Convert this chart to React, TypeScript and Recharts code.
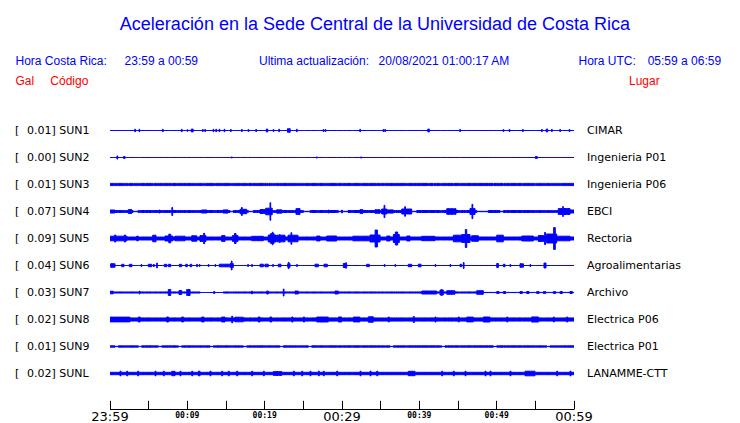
import React from "react";
import { ComposedChart, Area, XAxis, YAxis } from "recharts";

type Seg = [number, number, number];

const TITLE = "Aceleración en la Sede Central de la Universidad de Costa Rica";
const CODES = ["SUN1", "SUN2", "SUN3", "SUN4", "SUN5", "SUN6", "SUN7", "SUN8", "SUN9", "SUNL"];
const GAL = ["0.01", "0.00", "0.01", "0.07", "0.09", "0.04", "0.03", "0.02", "0.01", "0.02"];
const PLACES = ["CIMAR", "Ingenieria P01", "Ingenieria P06", "EBCI", "Rectoria", "Agroalimentarias", "Archivo", "Electrica P06", "Electrica P01", "LANAMME-CTT"];
const TIME_TICKS = [0, 5, 10, 15, 20, 25, 30, 35, 40, 45, 50, 55, 60];
const TIME_LABELS: Record<number, string> = { 0: "23:59", 10: "00:09", 20: "00:19", 30: "00:29", 40: "00:39", 50: "00:49", 60: "00:59" };
const MAJOR_TICKS = [0, 30, 60];

// background half-amplitude of each trace (display units)
const BASES = [0, 0, 1.1, 1.0, 1.5, 0, 0.6, 1.6, 0.7, 1.2];

// [start minute, end minute, half-amplitude]; later entries override earlier ones
const SUN1: Seg[] = [
  [3.2, 3.3, 1.2], [3.75, 3.85, 1.2], [6.78, 6.88, 1.2], [9.23, 9.33, 1.2], [9.97, 10.07, 0.8], [10.5, 10.75, 1.4],
  [11.95, 12.05, 1], [12.25, 12.35, 1], [13.33, 13.43, 1.2], [13.68, 13.78, 1.2], [14.1, 14.2, 1.2], [14.75, 14.85, 1.2],
  [15.58, 15.68, 1], [17.0, 17.1, 1], [17.85, 17.95, 1], [18.85, 18.95, 1], [20.2, 20.4, 1.4], [21.09, 21.19, 1],
  [21.82, 21.92, 1.2], [22.95, 23.3, 1.8], [24.11, 24.21, 1.2], [27.55, 27.65, 1], [27.81, 27.91, 1], [32.3, 32.4, 1.2],
  [35.31, 35.41, 1], [35.53, 35.63, 1], [41.1, 41.3, 1.4], [45.23, 45.33, 1], [50.83, 50.93, 1], [51.61, 51.71, 1],
  [53.34, 53.44, 1], [55.8, 55.9, 1], [56.4, 56.6, 1.4], [57.09, 57.19, 1], [58.16, 58.26, 1], [59.37, 59.47, 1],
];
const SUN2: Seg[] = [
  [0.9, 1.0, 1.6], [1.75, 1.95, 1], [15.7, 15.8, 0.6], [26.7, 26.8, 0.6], [32.42, 32.52, 0.6], [55.0, 55.25, 1],
];
const SUN3: Seg[] = [
  [2.33, 2.45, 0.5], [2.97, 3.09, 0.5], [3.84, 3.96, 0.5], [4.49, 4.61, 0.5], [5.56, 5.68, 0.5], [8.59, 8.71, 0.5],
  [10.95, 11.07, 0.5], [13.54, 13.66, 0.5], [15.7, 15.82, 0.5], [16.77, 16.89, 0.5], [17.64, 17.76, 0.5], [20.43, 20.55, 0.5],
  [21.3, 21.42, 0.5], [24.53, 24.65, 0.5], [25.18, 25.3, 0.5], [25.82, 25.94, 0.5], [31.22, 31.34, 0.5], [34.88, 35.0, 0.5],
  [38.33, 38.45, 0.5], [41.12, 41.24, 0.5], [41.77, 41.89, 0.5], [42.63, 42.75, 0.5], [43.5, 43.62, 0.5], [44.35, 44.47, 0.5],
  [49.53, 49.65, 0.5], [50.82, 50.94, 0.5], [52.55, 52.67, 0.5], [54.92, 55.04, 0.3], [56.86, 56.98, 0.5], [58.15, 58.27, 0.5],
];
const SUN4: Seg[] = [
  [2.97, 3.62, 0.2], [15.52, 15.94, 0.2], [17.88, 18.53, 0.2], [25.0, 25.86, 0.2], [29.52, 30.78, 0.2], [39.01, 39.66, 0.2],
  [47.42, 48.92, 0.2], [50.43, 50.86, 0.2],
  [0, 0.65, 1.5], [2.37, 2.81, 2], [6.36, 6.46, 1.5], [8.0, 8.1, 4], [11.86, 12.5, 1.6], [14.61, 15.26, 1.6],
  [16.81, 17.68, 2.2], [17.0, 17.1, 4], [19.4, 20.04, 2], [20.13, 20.98, 3.3], [20.69, 20.78, 8.8], [21.56, 22.2, 1.7],
  [24.05, 24.57, 3], [28.23, 28.33, 1.5], [29.95, 30.05, 1.5], [32.33, 32.68, 2], [34.27, 34.92, 1.8], [35.13, 35.78, 2.5],
  [35.44, 35.54, 6.2], [35.78, 36.64, 1.6], [37.72, 39.01, 2.5], [38.11, 38.2, 4.8], [43.54, 44.74, 2.8], [46.55, 47.2, 3],
  [46.81, 46.91, 7.2], [57.97, 59.48, 3], [58.54, 58.62, 5], [59.48, 60, 1.5],
];
const SUN5: Seg[] = [
  [0, 2.2, 2.3], [0.6, 0.75, 3.5], [1.85, 2.0, 3.5], [3.45, 3.66, 2.3], [5.52, 5.95, 3.3], [7.11, 8.1, 2.5],
  [7.6, 7.85, 4.3], [8.41, 9.7, 2.3], [10.57, 11.21, 2.8], [11.64, 12.41, 3], [12.11, 12.24, 5.2], [14.44, 14.87, 3],
  [15.83, 16.55, 3], [16.1, 16.3, 5], [18.32, 19.83, 2.2], [20.47, 21.47, 3.5], [20.78, 21.21, 5], [20.99, 21.08, 6.3],
  [21.56, 22.63, 3.3], [21.9, 22.0, 4], [23.02, 24.31, 3.3], [23.4, 23.5, 5.8], [26.73, 27.16, 2.5], [28.02, 29.31, 2.5],
  [31.4, 33.62, 2.3], [33.62, 34.92, 3.5], [34.28, 34.58, 8.5], [35.79, 36.21, 2.5], [36.64, 37.41, 4], [36.9, 37.2, 6.5],
  [38.37, 38.79, 2.5], [40.31, 42.03, 2.2], [44.4, 45.48, 3.3], [45.48, 46.55, 4], [45.95, 46.13, 9], [46.77, 47.63, 2.8],
  [50.01, 50.86, 3.3], [53.24, 54.74, 2.5], [55.39, 56.47, 3], [56.2, 56.33, 6], [56.47, 57.76, 4.5], [57.37, 57.58, 11],
  [57.76, 59.48, 2.3],
];
const SUN6: Seg[] = [
  [0.09, 0.65, 1.8], [1.51, 1.81, 1.2], [2.5, 2.84, 1.2], [4.01, 4.1, 1], [4.95, 5.39, 1.2], [5.6, 5.73, 1],
  [6.04, 6.12, 2.5], [7.02, 7.33, 1.2], [7.54, 7.85, 1.2], [8.96, 9.27, 1.2], [9.79, 10.0, 1.2], [10.35, 10.57, 1.2],
  [11.21, 11.3, 1.2], [11.55, 11.64, 1], [12.71, 12.8, 1], [13.58, 13.67, 1], [14.13, 15.43, 1.3], [15.52, 15.94, 2],
  [15.69, 15.78, 4.5], [17.81, 17.9, 1], [18.32, 18.41, 1], [19.4, 19.83, 1.3], [20.04, 20.47, 1.3], [21.04, 21.13, 1],
  [21.76, 22.11, 1.3], [22.98, 23.28, 1.8], [23.06, 23.15, 3.2], [24.14, 24.23, 1], [26.51, 26.94, 1.3], [27.67, 28.1, 1.3],
  [30.17, 30.61, 2], [30.48, 30.56, 2.8], [33.19, 33.53, 1.2], [35.47, 35.56, 1], [36.85, 36.94, 1], [38.57, 39.01, 1.2],
  [39.87, 40.22, 1.3], [42.03, 42.12, 1], [43.97, 44.06, 1], [45.26, 45.48, 1.2], [45.69, 45.78, 3], [50.01, 50.22, 2],
  [50.86, 51.08, 1.2], [51.72, 51.81, 1], [53.02, 53.45, 1.8], [54.31, 54.4, 1], [56.12, 56.38, 2.5],
];
const SUN7: Seg[] = [
  [0, 0.43, 1.3], [3.79, 3.88, 1.5], [7.54, 7.85, 3], [8.92, 9.27, 2], [9.92, 10.35, 3], [11.64, 14.65, 0],
  [13.4, 13.55, 1], [18.32, 18.41, 1.5], [20.26, 20.47, 1.5], [22.41, 22.5, 3.5], [23.92, 24.35, 1.5], [29.1, 29.52, 1.5],
  [40.31, 42.25, 1.5], [42.67, 43.1, 2.5], [42.84, 42.93, 3], [43.54, 44.61, 1.8], [47.42, 48.27, 1.8], [48.27, 60, 0.1],
  [50.01, 50.31, 1], [50.86, 51.16, 1], [53.02, 53.32, 1], [53.88, 54.18, 1], [55.18, 55.48, 1], [56.04, 56.34, 1],
  [57.33, 57.63, 1], [58.19, 58.49, 1], [59.48, 59.78, 1],
];
const SUN8: Seg[] = [
  [0, 2.59, 2.4], [3.66, 3.91, 2.5], [7.33, 7.58, 2.5], [9.27, 9.5, 2.5], [11.86, 12.16, 2.5], [14.44, 14.87, 2.5],
  [15.74, 15.87, 3.3], [16.16, 17.24, 2.3], [19.18, 19.4, 2.5], [20.69, 20.91, 2.5], [23.5, 23.66, 2.5], [25.0, 25.16, 2.5],
  [26.73, 28.23, 2.5], [29.52, 29.96, 2.5], [31.46, 32.33, 2.4], [33.4, 34.05, 2.7], [35.99, 36.12, 2.5], [39.22, 39.35, 3],
  [42.03, 42.16, 2.5], [45.04, 45.17, 2.5], [46.12, 46.98, 2.4], [48.27, 49.14, 2.5], [51.3, 51.43, 2.5], [54.53, 55.39, 2.6],
  [57.33, 57.46, 2.5], [59.06, 59.19, 2.5],
];
const SUN9: Seg[] = [
  [0.65, 1.07, 0.1], [3.66, 4.1, 0.1], [6.25, 6.69, 0.1], [8.83, 9.27, 0.1], [12.93, 13.36, 0.1], [17.24, 17.68, 0.1],
  [21.98, 22.41, 0.1], [25.64, 26.08, 0.1], [36.21, 36.64, 0.1], [42.89, 43.32, 0.1], [49.57, 50.01, 0.1], [56.47, 56.9, 0.1],
];
const SUNL: Seg[] = [
  [1.29, 1.42, 2.3], [2.16, 2.29, 2.3], [3.58, 3.71, 2.3], [5.82, 5.95, 2.3], [6.89, 7.02, 2.3], [7.98, 8.41, 2.2],
  [9.05, 9.18, 2.3], [10.57, 10.7, 2.3], [11.42, 11.64, 2.3], [12.93, 13.06, 2.3], [14.44, 14.57, 2.3], [15.3, 15.43, 2.3],
  [16.38, 16.51, 2.3], [18.32, 18.45, 2.3], [19.83, 19.96, 2.3], [21.12, 22.2, 2], [23.71, 23.84, 2.3], [24.79, 24.92, 2.3],
  [25.86, 25.99, 2.3], [26.94, 27.07, 2.3], [27.58, 27.71, 2.3], [29.31, 29.44, 2.3], [32.33, 32.46, 2.3], [33.62, 33.75, 2.3],
  [34.49, 34.62, 2.3], [38.57, 39.44, 2.2], [42.89, 43.02, 2.3], [44.39, 44.52, 2.3], [45.91, 46.04, 2.3], [48.49, 48.62, 2.3],
  [49.14, 49.27, 2.3], [51.72, 51.85, 2.3], [53.67, 54.96, 2.3], [57.76, 57.89, 2.3], [59.48, 59.61, 2.3],
];
const SEGMENTS = [SUN1, SUN2, SUN3, SUN4, SUN5, SUN6, SUN7, SUN8, SUN9, SUNL];

// layout: one display unit = one pixel of the plot, rows 27 units apart
const Y_SPAN = 306;
const FIRST_ROW = 279;
const ROW_GAP = 27;
const CENTERS = CODES.map((_, i) => FIRST_ROW - ROW_GAP * i);

function ampAt(base: number, segs: Seg[], t: number): number {
  let a = base;
  for (const s of segs) if (s[0] <= t && t < s[1]) a = s[2];
  return a;
}

function buildTable() {
  const set = new Set<number>([0, 60]);
  SEGMENTS.forEach((segs) => segs.forEach((s) => { set.add(s[0]); set.add(Math.min(60, s[1])); }));
  const ts = Array.from(set).sort((a, b) => a - b);
  return ts.map((t, k) => {
    const mid = k < ts.length - 1 ? (t + ts[k + 1]) / 2 : t - 1e-6;
    const row: Record<string, any> = { t };
    CODES.forEach((_, i) => {
      const a = ampAt(BASES[i], SEGMENTS[i], mid);
      row["r" + i] = [CENTERS[i] - a, CENTERS[i] + a];
    });
    return row;
  });
}
const TABLE = buildTable();

const BLUE = "#0000ff";
const RED = "#ff0000";
const SANS = "'Liberation Sans', Arial, Helvetica, sans-serif";
const DEJAVU = "'DejaVu Sans', sans-serif";

const LeftTick = (props: any) => {
  const { y, payload } = props;
  const i = CENTERS.indexOf(payload.value);
  if (i < 0) return null;
  return (
    <g fontFamily={DEJAVU} fontSize={11} fill="#000">
      <text x={15} y={y} dy="0.36em">[</text>
      <text x={27} y={y} dy="0.36em">{GAL[i] + "] " + CODES[i]}</text>
    </g>
  );
};

const RightTick = (props: any) => {
  const { y, payload } = props;
  const i = CENTERS.indexOf(payload.value);
  if (i < 0) return null;
  return (
    <text x={587} y={y} dy="0.36em" fontFamily={DEJAVU} fontSize={11} fill="#000">{PLACES[i]}</text>
  );
};

const TimeTick = (props: any) => {
  const { x, y, payload } = props;
  const v = payload.value as number;
  const lx = Math.floor(x) + 0.5;
  const label = TIME_LABELS[v];
  const major = MAJOR_TICKS.includes(v);
  return (
    <g>
      <line x1={lx} x2={lx} y1={y} y2={y - 8.7} stroke="#000" strokeWidth={1} />
      {label ? (
        major ? (
          <text x={x} y={y + 11.2} textAnchor="middle" fontFamily={DEJAVU} fontSize={13} fill="#000">{label}</text>
        ) : (
          <text x={x} y={y + 8.2} textAnchor="middle" fontFamily="'DejaVu Sans Mono', monospace" fontWeight="bold" fontSize={8} fill="#000">{label}</text>
        )
      ) : null}
    </g>
  );
};

export default function App() {
  return (
    <div style={{ position: "absolute", left: 0, top: 0, width: 740, height: 423, background: "#fff" }}>
      <ComposedChart width={740} height={423} data={TABLE} margin={{ top: 103.5, right: 0, bottom: 0, left: 0 }}>
        <XAxis
          dataKey="t"
          type="number"
          domain={[0, 60]}
          ticks={TIME_TICKS}
          interval={0}
          allowDataOverflow
          height={13.5}
          tickSize={0}
          tickMargin={0}
          tickLine={false}
          axisLine={{ stroke: "#000", strokeWidth: 1 }}
          tick={TimeTick}
        />
        <YAxis
          yAxisId="left"
          type="number"
          domain={[0, Y_SPAN]}
          ticks={CENTERS}
          interval={0}
          allowDataOverflow
          width={110}
          axisLine={false}
          tickLine={false}
          tick={LeftTick}
        />
        <YAxis
          yAxisId="right"
          orientation="right"
          type="number"
          domain={[0, Y_SPAN]}
          ticks={CENTERS}
          interval={0}
          allowDataOverflow
          width={166}
          axisLine={false}
          tickLine={false}
          tick={RightTick}
        />
        {CODES.map((c, i) => (
          <Area
            key={c}
            yAxisId="left"
            dataKey={"r" + i}
            type="stepAfter"
            stroke={BLUE}
            strokeWidth={1}
            fill={BLUE}
            fillOpacity={1}
            dot={false}
            activeDot={false}
            isAnimationActive={false}
          />
        ))}
      </ComposedChart>
      <svg width={740} height={423} style={{ position: "absolute", left: 0, top: 0, pointerEvents: "none" }}>
        <text x={375} y={30} textAnchor="middle" fontFamily={SANS} fontSize={18} fill={BLUE}>{TITLE}</text>
        <g fontFamily={SANS} fontSize={12} fill={BLUE}>
          <text x={15.5} y={65}>Hora Costa Rica:</text>
          <text x={124.6} y={65}>23:59 a 00:59</text>
          <text x={259} y={65}>Ultima actualización:</text>
          <text x={378.6} y={65}>20/08/2021 01:00:17 AM</text>
          <text x={578.5} y={65}>Hora UTC:</text>
          <text x={647.7} y={65}>05:59 a 06:59</text>
        </g>
        <g fontFamily={SANS} fontSize={12} fill={RED}>
          <text x={15.5} y={85}>Gal</text>
          <text x={50.3} y={85}>Código</text>
          <text x={629} y={85}>Lugar</text>
        </g>
      </svg>
    </div>
  );
}
